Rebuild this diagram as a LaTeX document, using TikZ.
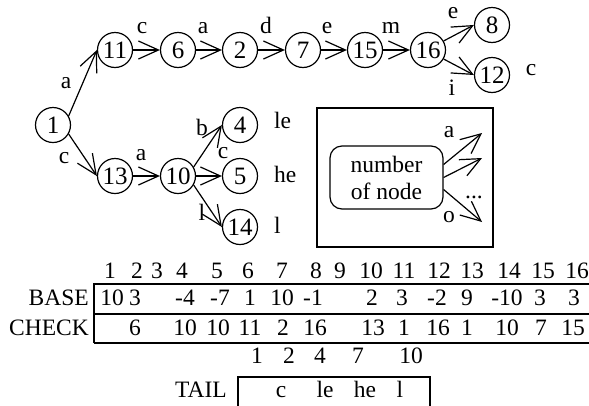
\documentclass[tikz,border=0pt]{standalone}
\usepackage{fontspec}
\setmainfont{Liberation Serif}
\usetikzlibrary{arrows.meta}
\begin{document}
\begin{tikzpicture}[x=1pt,y=-1pt,
  every node/.style={font=\fontsize{23.5}{27}\selectfont},
  state/.style={circle,draw,line width=1.2pt,minimum size=35pt,inner sep=0pt,
    font=\fontsize{25}{27}\selectfont},
  lbl/.style={anchor=base,inner sep=0pt},
  rlbl/.style={anchor=base east,inner sep=0pt},
  llbl/.style={anchor=base west,inner sep=0pt},
  trans/.style={-{Straight Barb[length=20pt,width=18pt]},line width=1.2pt},
  rule/.style={line width=1.2pt}]
\useasboundingbox (0,0) rectangle (589,405);

% trie states
\node[state] (n1)  at (53,125)  {1};
\node[state] (n11) at (115,50)  {11};
\node[state] (n6)  at (178,50)  {6};
\node[state] (n2)  at (240,50)  {2};
\node[state] (n7)  at (303,50)  {7};
\node[state] (n15) at (365,50)  {15};
\node[state] (n16) at (428,50)  {16};
\node[state] (n8)  at (492,25)  {8};
\node[state] (n12) at (492,75)  {12};
\node[state] (n13) at (115,176) {13};
\node[state] (n10) at (178,176) {10};
\node[state] (n4)  at (240,125) {4};
\node[state] (n5)  at (240,176) {5};
\node[state] (n14) at (240,227) {14};

% transitions
\draw[trans] (n1.30) -- (n11.west);
\draw[trans] (n11) -- (n6);
\draw[trans] (n6) -- (n2);
\draw[trans] (n2) -- (n7);
\draw[trans] (n7) -- (n15);
\draw[trans] (n15) -- (n16);
\draw[trans] (n16.30) -- (n8.west);
\draw[trans] (n16.-30) -- (n12.west);
\draw[trans] (n1.-30) -- (n13.west);
\draw[trans] (n13) -- (n10);
\draw[trans] (n10.30) -- (n4.west);
\draw[trans] (n10) -- (n5);
\draw[trans] (n10.-30) -- (n14.west);

% transition characters
\node[lbl] (ta1)  at (66,88)   {a};
\node[lbl] (tc1)  at (142,33)  {c};
\node[lbl] (ta2)  at (203,33)  {a};
\node[lbl] (td)   at (266,33)  {d};
\node[lbl] (te1)  at (327,33)  {e};
\node[lbl] (tm)   at (391,33)  {m};
\node[lbl] (te2)  at (453,18)  {e};
\node[lbl] (ti)   at (452,95)  {i};
\node[lbl] (tc2)  at (64,163)  {c};
\node[lbl] (ta3)  at (141,160) {a};
\node[lbl] (tb)   at (202,135) {b};
\node[lbl] (tc3)  at (223,158) {c};
\node[lbl] (tl)   at (202,220) {l};

% tails of the leaves
\node[lbl]  (sc)  at (531,75)  {c};
\node[llbl] (sle) at (274,128) {le};
\node[llbl] (she) at (274,182) {he};
\node[llbl] (sl)  at (274,233) {l};

% legend
\node[draw,rule,minimum width=176pt,minimum height=139pt,inner sep=0pt]
  (legend) at (405,177.5) {};
\node[draw,rule,rounded corners=12pt,minimum width=113pt,minimum height=63pt,
  inner sep=0pt,align=center] (nn) at (386.5,177.5) {number\\of node};
\coordinate (ea) at (482,133);
\coordinate (eb) at (482,158);
\coordinate (eo) at (482,222);
\draw[trans] ([yshift=13pt]nn.east) -- (ea);
\draw[trans] (nn.east) -- (eb);
\draw[trans] ([yshift=-12pt]nn.east) -- (eo);
\node[lbl] (la) at (449,137) {a};
\node[lbl] (ld) at (474,198) {...};
\node[lbl] (lo) at (449,222) {o};

% double array: indices
\foreach \x/\t [count=\i] in {110/1,137/2,157/3,182/4,217/5,248/6,282/7,316/8,
    340/9,371/10,404/11,439/12,472/13,509/14,543/15,577/16}
  \node[lbl] (hd\i) at (\x,278) {\t};

\node[rlbl] (base) at (89,305) {BASE};
\node[rlbl] (check) at (89,335) {CHECK};
\draw[rule] (94,343) |- (595,284);
\draw[rule] (94,314) -- (595,314);
\draw[rule] (94,343) -- (595,343);

\foreach \x/\t [count=\i] in {112/10,135/3,185/-4,220/-7,250/1,282/10,313/-1,
    372/2,402/3,437/-2,467/9,507/-10,540/3,574/3}
  \node[lbl] (bv\i) at (\x,305) {\t};
\foreach \x/\t [count=\i] in {135/6,185/10,218/10,250/11,283/2,315/16,
    373/13,404/1,438/16,467/1,507/10,541/7,573/15}
  \node[lbl] (cv\i) at (\x,335) {\t};

% tail array
\foreach \x/\t [count=\i] in {257/1,289/2,320/4,358/7,411/10}
  \node[lbl] (tx\i) at (\x,363) {\t};
\node[rlbl] (tail) at (227,397) {TAIL};
\draw[rule] (238,410) |- (430,377) -- (430,410);
\foreach \x/\t [count=\i] in {281/c,325/le,365/he,400/l}
  \node[lbl] (tv\i) at (\x,397) {\t};
\end{tikzpicture}
\end{document}
